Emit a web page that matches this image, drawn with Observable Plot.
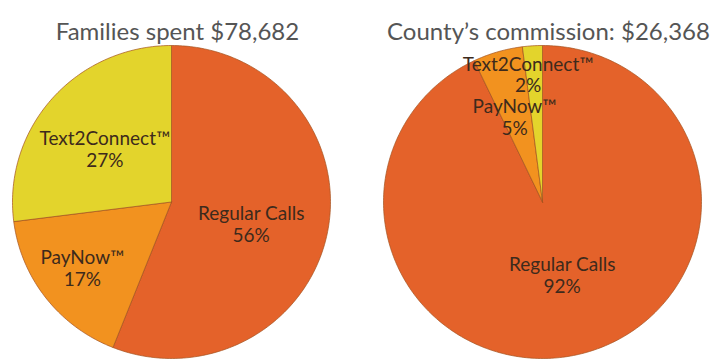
<!DOCTYPE html>
<html>
<head>
<meta charset="utf-8">
<script src="https://cdn.jsdelivr.net/npm/d3@7"></script>
<script src="https://cdn.jsdelivr.net/npm/@observablehq/plot@0.6"></script>
<style>
  html, body { margin: 0; padding: 0; background: #fff; }
  #chart svg { display: block; }
</style>
</head>
<body>
<div id="chart"></div>
<script>
// ---- data ----
const charts = ["families", "county"];
const chartTitles = ["Families spent $78,682", "County\u2019s commission: $26,368"];
const categories = ["Regular Calls", "PayNow\u2122", "Text2Connect\u2122"];
const familiesPct = [56, 17, 27];
const countyPct = [92, 5, 2];
const colors = ["#E4622A", "#F2921F", "#E3D42C"];

// ---- label placement (layout only): radius fraction and angle shift in degrees ----
const labelPlacement = {
  families: [{r: 0.52, dA: 4.6}, {r: 0.70, dA: 1.0}, {r: 0.54, dA: -2.3}],
  county:   [{r: 0.48, dA: -2.2}, {r: 0.57, dA: -1.6}, {r: 0.82, dA: -2.7}]
};

const seriesByChart = {families: familiesPct, county: countyPct};

const slices = [];
const labels = [];
charts.forEach((key) => {
  const vals = seriesByChart[key];
  const pie = d3.pie().sort(null).value(d => d)(vals);
  pie.forEach((arc, i) => {
    const id = key + "-" + i;
    const pts = [{x: 0, y: 0}];
    const n = Math.max(2, Math.ceil((arc.endAngle - arc.startAngle) / (Math.PI / 180)));
    for (let k = 0; k <= n; k++) {
      const a = arc.startAngle + (arc.endAngle - arc.startAngle) * k / n;
      pts.push({x: Math.sin(a), y: Math.cos(a)});
    }
    pts.push({x: 0, y: 0});
    pts.forEach(p => slices.push({chart: key, id, cat: categories[i], x: p.x, y: p.y}));
    const pl = labelPlacement[key][i];
    const mid = (arc.startAngle + arc.endAngle) / 2 + pl.dA * Math.PI / 180;
    labels.push({
      chart: key,
      x: pl.r * Math.sin(mid),
      y: pl.r * Math.cos(mid),
      text: categories[i] + "\n" + vals[i] + "%"
    });
  });
});

const titles = charts.map((key, i) => ({chart: key, title: chartTitles[i]}));

const plot = Plot.plot({
  width: 715,
  height: 362,
  marginTop: 45,
  marginBottom: 4,
  marginLeft: 4.05,
  marginRight: 6.05,
  style: {fontFamily: "Lato, sans-serif", background: "#fff"},
  fx: {domain: charts, axis: null, paddingInner: 0.1, paddingOuter: 0, round: false},
  x: {domain: [-1.05, 1.05], axis: null},
  y: {domain: [-1, 1], axis: null},
  color: {domain: categories, range: colors},
  marks: [
    Plot.line(slices, {
      fx: "chart", x: "x", y: "y", z: "id",
      fill: "cat", stroke: "#a4521f", strokeWidth: 1, strokeOpacity: 0.7,
      curve: "linear"
    }),
    Plot.text(labels, {
      fx: "chart", x: "x", y: "y", text: "text",
      fontSize: 19, lineHeight: 1.15, fill: "#3d2a1c"
    }),
    Plot.text(titles, {
      fx: "chart", frameAnchor: "top", text: "title",
      dy: -23, dx: 6, fontSize: 24, fill: "#555"
    })
  ]
});
document.getElementById("chart").appendChild(plot);
</script>
</body>
</html>
